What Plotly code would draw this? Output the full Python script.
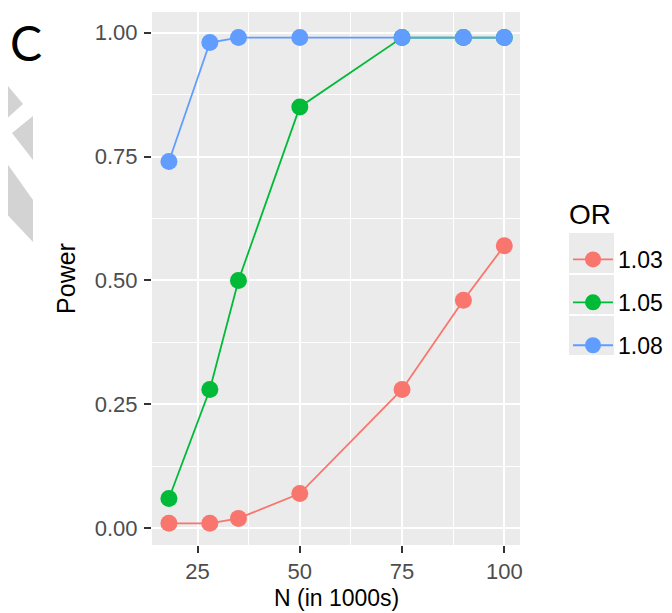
import plotly.graph_objects as go

# ---- data ----
n_thousands = [18, 28, 35, 50, 75, 90, 100]
or_labels = ["1.03", "1.05", "1.08"]
power_103 = [0.01, 0.01, 0.02, 0.07, 0.28, 0.46, 0.57]
power_105 = [0.06, 0.28, 0.50, 0.85, 0.99, 0.99, 0.99]
power_108 = [0.74, 0.98, 0.99, 0.99, 0.99, 0.99, 0.99]
x_ticks = [25, 50, 75, 100]
y_ticks = [0.00, 0.25, 0.50, 0.75, 1.00]
y_ticklabels = ["0.00", "0.25", "0.50", "0.75", "1.00"]

colors = ["#F8766D", "#00BA38", "#619CFF"]
series = [power_103, power_105, power_108]

# page body has an 8px default margin; compensate so the figure lines up
OFF = 8
W, H = 672 - OFF, 613 - OFF
ML, MR, MT, MB = 152 - OFF, 152, 12 - OFF, 68
PW, PH = W - ML - MR, H - MT - MB


def px(x):
    return (x - OFF - ML) / PW


def py(y):
    return (H - MB - (y - OFF)) / PH


fig = go.Figure()
for lab, vals, col in zip(or_labels, series, colors):
    fig.add_trace(go.Scatter(
        x=n_thousands, y=vals, name=lab, mode="lines+markers",
        line=dict(color=col, width=1.8),
        marker=dict(color=col, size=17),
        legendgroup=lab,
    ))

shapes = []
# legend key backgrounds
for (y0, y1) in [(233, 273), (275, 314), (316, 355)]:
    shapes.append(dict(type="rect", xref="paper", yref="paper",
                       x0=px(569), x1=px(614), y0=py(y1), y1=py(y0),
                       fillcolor="#EBEBEB", line=dict(width=0), layer="below"))

# grey watermark fragments on the left
wm = [
    [(0, 92), (8, 86), (23, 104), (3, 122), (0, 118)],
    [(12, 133), (33, 116), (33, 160)],
    [(0, 162), (4, 159), (33, 200), (33, 242), (0, 207)],
    [(0, 248), (8, 260), (0, 270)],
]
for poly in wm:
    path = "M " + " L ".join(f"{px(a):.4f},{py(b):.4f}" for a, b in poly) + " Z"
    shapes.append(dict(type="path", xref="paper", yref="paper", path=path,
                       fillcolor="#D3D3D3", line=dict(width=0), layer="below"))

fig.update_layout(
    width=W, height=H,
    margin=dict(l=ML, r=MR, t=MT, b=MB, pad=0, autoexpand=False),
    paper_bgcolor="white",
    plot_bgcolor="#EBEBEB",
    font=dict(family="Liberation Sans, Arial, sans-serif", color="black"),
    shapes=shapes,
    showlegend=True,
    legend=dict(
        font=dict(size=23, color="black"),
        x=px(568), y=py(238), xanchor="left", yanchor="top",
        bgcolor="rgba(0,0,0,0)",
        tracegroupgap=10,
        itemwidth=40,
    ),
    annotations=[
        dict(text="C", xref="paper", yref="paper", x=px(26), y=py(43),
             xanchor="center", yanchor="middle", showarrow=False,
             font=dict(family="Lato, Open Sans, sans-serif", size=48, color="black")),
        dict(text="OR", xref="paper", yref="paper", x=px(567), y=py(215),
             xanchor="left", yanchor="middle", showarrow=False,
             font=dict(size=28, color="black")),
        dict(text="N (in 1000s)", xref="paper", yref="paper", x=0.5, y=py(612),
             xanchor="center", yanchor="bottom", showarrow=False, borderpad=0,
             font=dict(size=23, color="black")),
    ],
)

fig.update_xaxes(
    range=[13.86, 103.84], tickvals=x_ticks, automargin=False,
    ticks="outside", ticklen=7, tickwidth=1.5, tickcolor="#333333",
    ticklabelstandoff=0,
    tickfont=dict(size=22, color="#4D4D4D"),
    showgrid=True, gridcolor="white", gridwidth=2.2,
    minor=dict(tickvals=[12.5, 37.5, 62.5, 87.5], showgrid=True,
               gridcolor="white", gridwidth=1.4, ticks=""),
    zeroline=False, showline=False,
)
fig.update_yaxes(
    range=[-0.0337, 1.0415], tickvals=y_ticks, ticktext=y_ticklabels, automargin=False,
    ticks="outside", ticklen=7, tickwidth=1.5, tickcolor="#333333",
    ticklabelstandoff=2,
    tickfont=dict(size=22, color="#4D4D4D"),
    showgrid=True, gridcolor="white", gridwidth=2.2,
    minor=dict(tickvals=[0.125, 0.375, 0.625, 0.875], showgrid=True,
               gridcolor="white", gridwidth=1.4, ticks=""),
    zeroline=False, showline=False,
    title=dict(text="Power", font=dict(size=25, color="black"), standoff=12),
)

fig.write_html("out.html")
